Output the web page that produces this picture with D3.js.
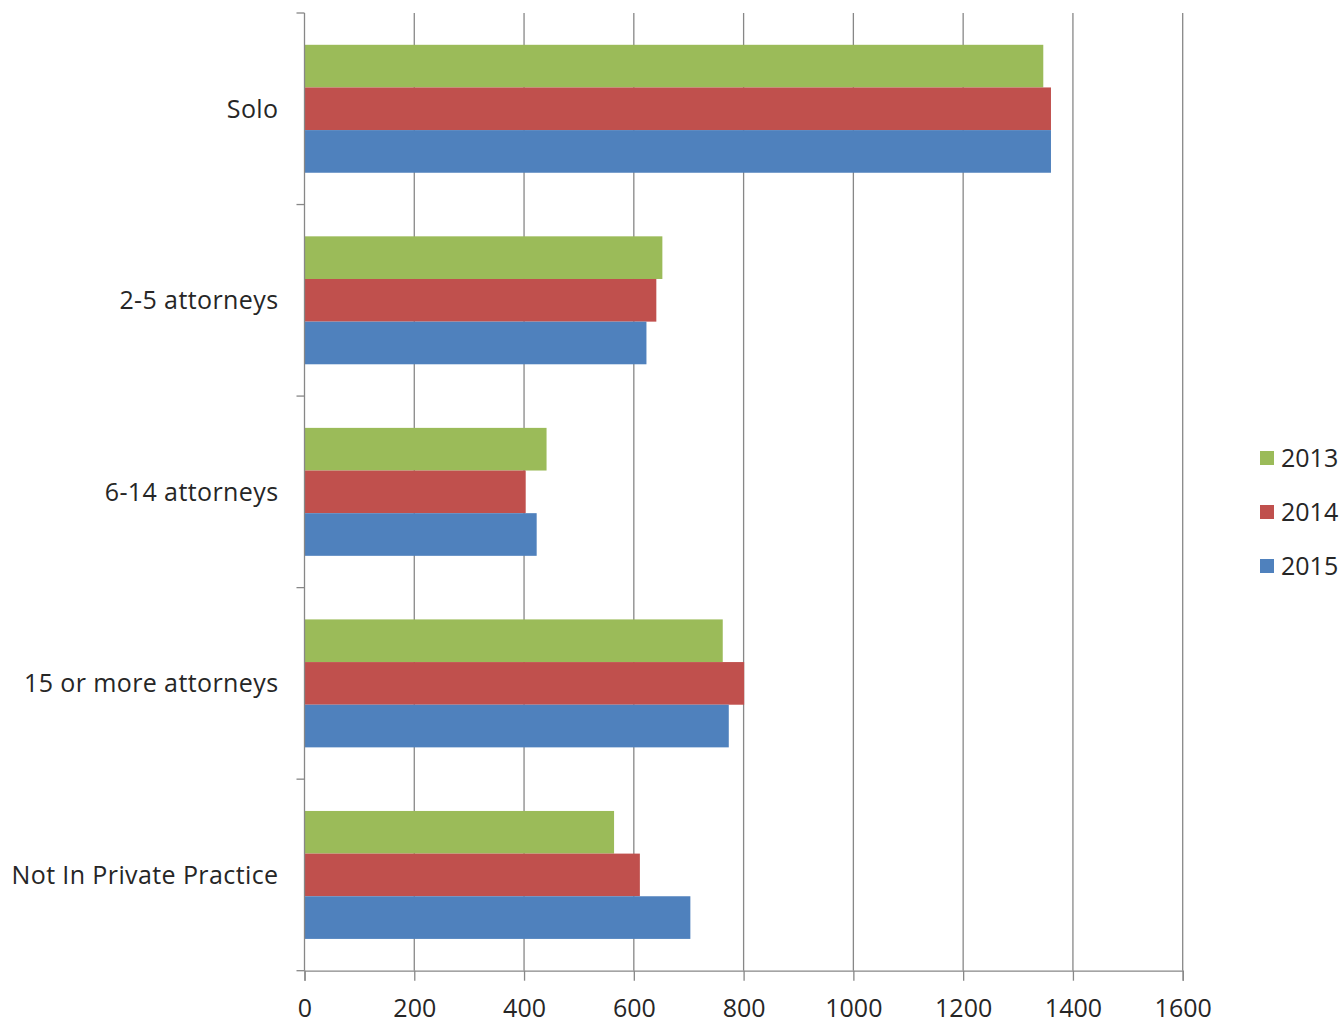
<!DOCTYPE html>
<html>
<head>
<meta charset="utf-8">
<script src="https://cdn.jsdelivr.net/npm/d3@7"></script>
<style>
  body { margin: 0; background: #fff; }
  text { font-family: "Open Sans", "Noto Sans", sans-serif; fill: #262626; }
</style>
</head>
<body>
<div id="container"></div>
<script>
// categories and series
const categories = ['Solo', '2-5 attorneys', '6-14 attorneys', '15 or more attorneys', 'Not In Private Practice']
const years = ['2013', '2014', '2015']
const values2013 = [1346, 652, 441, 762, 564]
const values2014 = [1360, 641, 403, 801, 611]
const values2015 = [1360, 623, 423, 773, 703]
const xTicks = [0, 200, 400, 600, 800, 1000, 1200, 1400, 1600]
const colors = ['#9BBB59', '#C0504D', '#4F81BD']

function displayChart() {
  const series = [values2013, values2014, values2015]

  const left = 304.5, right = 1182.7, top = 13, bottom = 970.7

  const svg = d3.select('#container').append('svg')
    .attr('width', 1340)
    .attr('height', 1036)

  const x = d3.scaleLinear()
    .domain([0, 1600])
    .range([left, right])

  const y = d3.scaleBand()
    .domain(categories)
    .range([top, bottom])
    .paddingInner(0.332)
    .paddingOuter(0.166)

  const yInner = d3.scaleBand()
    .domain(years)
    .range([0, y.bandwidth()])

  // gridlines
  svg.append('g')
    .selectAll('line')
    .data(xTicks.slice(1))
    .enter().append('line')
    .attr('x1', d => x(d))
    .attr('x2', d => x(d))
    .attr('y1', top)
    .attr('y2', bottom)
    .attr('stroke', '#878787')
    .attr('stroke-width', 1.3)

  // bars
  categories.forEach((c, i) => {
    years.forEach((yr, j) => {
      svg.append('rect')
        .attr('x', x(0))
        .attr('y', y(c) + yInner(yr))
        .attr('width', x(series[j][i]) - x(0))
        .attr('height', yInner.bandwidth())
        .attr('fill', colors[j])
    })
  })

  // x axis
  const xAxis = d3.axisBottom(x)
    .tickValues(xTicks)
    .tickFormat(d3.format('d'))
    .tickSize(10)
    .tickPadding(19)
  const gx = svg.append('g')
    .attr('transform', 'translate(0,' + bottom + ')')
    .call(xAxis)
  gx.select('.domain').attr('stroke', '#878787').attr('stroke-width', 1.3)
  gx.selectAll('.tick line').attr('stroke', '#878787').attr('stroke-width', 1.3)
  gx.selectAll('.tick text')
    .attr('font-size', '25px')
    .attr('fill', '#262626')
    .style('font-family', '"Open Sans", "Noto Sans", sans-serif')

  // y axis line and category ticks at band edges
  svg.append('line')
    .attr('x1', left).attr('x2', left)
    .attr('y1', top).attr('y2', bottom)
    .attr('stroke', '#878787')
    .attr('stroke-width', 1.3)

  const edges = categories.map(c => y(c) - y.step() * 0.166).concat([bottom])
  svg.append('g')
    .selectAll('line')
    .data(edges)
    .enter().append('line')
    .attr('x1', left - 8)
    .attr('x2', left)
    .attr('y1', d => d)
    .attr('y2', d => d)
    .attr('stroke', '#878787')
    .attr('stroke-width', 1.3)

  // category labels
  svg.append('g')
    .selectAll('text')
    .data(categories)
    .enter().append('text')
    .attr('x', left - 26)
    .attr('y', d => y(d) + y.bandwidth() / 2)
    .attr('dy', '0.35em')
    .attr('text-anchor', 'end')
    .attr('font-size', '25px')
    .attr('letter-spacing', '0.4px')
    .text(d => d)

  // legend
  const legend = svg.append('g')
  years.forEach((yr, j) => {
    const ly = 458 + j * 54
    legend.append('rect')
      .attr('x', 1260)
      .attr('y', ly - 7)
      .attr('width', 14)
      .attr('height', 14)
      .attr('fill', colors[j])
    legend.append('text')
      .attr('x', 1281)
      .attr('y', ly)
      .attr('dy', '0.36em')
      .attr('font-size', '25px')
      .text(yr)
  })
}

displayChart()
</script>
</body>
</html>
